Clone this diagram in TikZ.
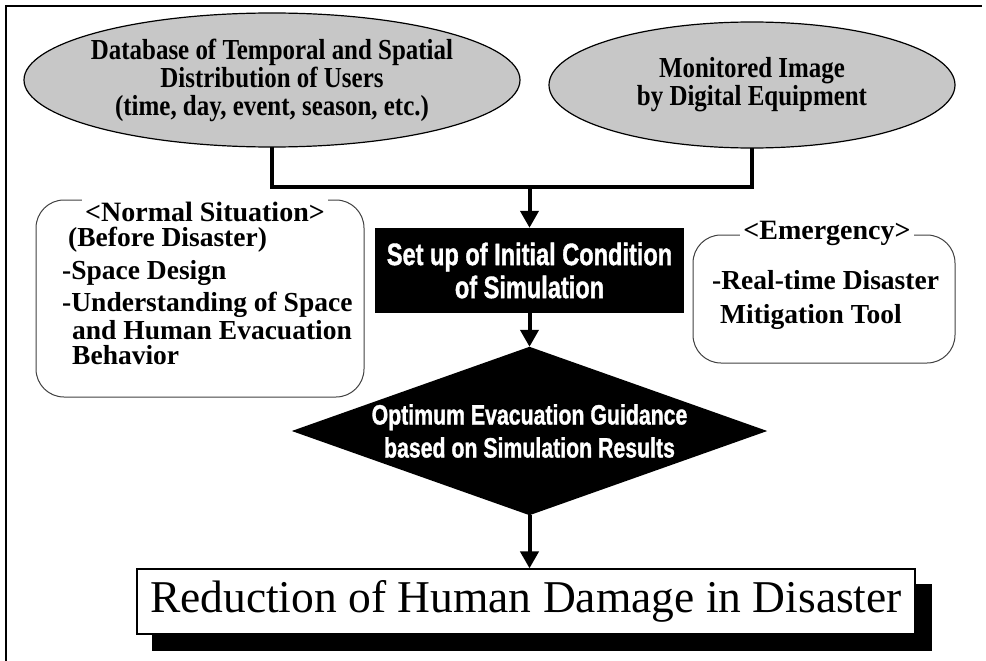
\documentclass[tikz,border=0pt]{standalone}
\usepackage{fontspec}
\setmainfont{Liberation Serif}
\newfontfamily\ellfont[FakeStretch=0.86]{Liberation Serif}
\newfontfamily\impfont[FakeStretch=0.76,FakeBold=1.2]{Liberation Sans}
\usetikzlibrary{arrows.meta,shapes.geometric,backgrounds}
\begin{document}
\begin{tikzpicture}[x=1pt,y=-1pt,
  ellbox/.style={ellipse, draw=black, line width=1.2pt, fill=black!22, inner sep=0pt},
  elltext/.style={align=center, inner sep=0pt, font=\ellfont\bfseries\fontsize{29}{28}\selectfont},
  conn/.style={line width=4pt},
  arr/.style={line width=4pt, -{Triangle[length=17pt,width=18pt]}},
  sidebox/.style={draw=black!75, line width=1pt, rounded corners=28pt, inner sep=0pt},
  sidetitle/.style={fill=white, inner sep=3pt, font=\bfseries\fontsize{28}{28}\selectfont},
  sidetext/.style={anchor=west, inner sep=0pt, font=\bfseries\fontsize{27.5}{27.5}\selectfont},
  whitetext/.style={text=white, align=center, inner sep=0pt},
]
\useasboundingbox (0,0) rectangle (986,661);
\draw[line width=2pt] (6,661) -- (6,6) -- (982,6);

% top ellipses
\node[ellbox, minimum width=496pt, minimum height=134pt] (db) at (272,80) {};
\node[elltext] (dbtext) at (db.center) {Database of Temporal and Spatial\\Distribution of Users\\(time, day, event, season, etc.)};
\node[ellbox, minimum width=406pt, minimum height=126pt] (mon) at (752,85) {};
\node[elltext] (montext) at (mon.center) {Monitored Image\\by Digital Equipment};

% set up box
\node[fill=black, minimum width=309pt, minimum height=85pt, whitetext,
      font=\impfont\bfseries\fontsize{31}{33}\selectfont] (setup) at (529.5,270.5)
      {Set up of Initial Condition\\of Simulation};

% diamond
\node[minimum width=475pt, minimum height=168pt, inner sep=0pt] (guide) at (529.5,431) {};
\fill[black] (guide.north) -- (guide.east) -- (guide.south) -- (guide.west) -- cycle;
\node[whitetext, font=\impfont\bfseries\fontsize{28}{33}\selectfont] (guidetext) at (guide.center)
      {Optimum Evacuation Guidance\\based on Simulation Results};

% result box
\node[draw, line width=1.2pt, fill=white, minimum width=778pt, minimum height=65pt, inner sep=0pt,
      font=\fontsize{45.5}{45.5}\selectfont] (result) at (526,601.5) {Reduction of Human Damage in Disaster};

% side boxes
\node[sidebox, minimum width=328pt, minimum height=197pt] (normal) at (200,298.5) {};
\node[sidetitle] (normaltitle) at (205,212) {<Normal Situation>};
\node[sidetext] (n1) at (68,240) {(Before Disaster)};
\node[sidetext] (n2) at (62,273) {-Space Design};
\node[sidetext] (n3) at (62,305) {-Understanding of Space};
\node[sidetext] (n4) at (72,330) {and Human Evacuation};
\node[sidetext] (n5) at (72,355) {Behavior};

\node[sidebox, minimum width=262pt, minimum height=128pt] (emer) at (824,299) {};
\node[sidetitle] (emertitle) at (827,233) {<Emergency>};
\node[sidetext] (e1) at (712,280) {-Real-time Disaster};
\node[sidetext] (e2) at (720,317) {Mitigation Tool};

% connectors
\coordinate (junction) at (529.5,187);
\begin{scope}[on background layer]
  \draw[conn] (db.center) |- (junction) -| (mon.center);
  \fill[black] ([shift={(16,16)}]result.north west) rectangle ([shift={(16,16)}]result.south east);
\end{scope}
\draw[arr] (junction) -- (setup.north);
\draw[arr] (setup.south) -- (guide.north);
\draw[arr] (guide.south) -- (guide.south |- result.north);
\end{tikzpicture}
\end{document}
